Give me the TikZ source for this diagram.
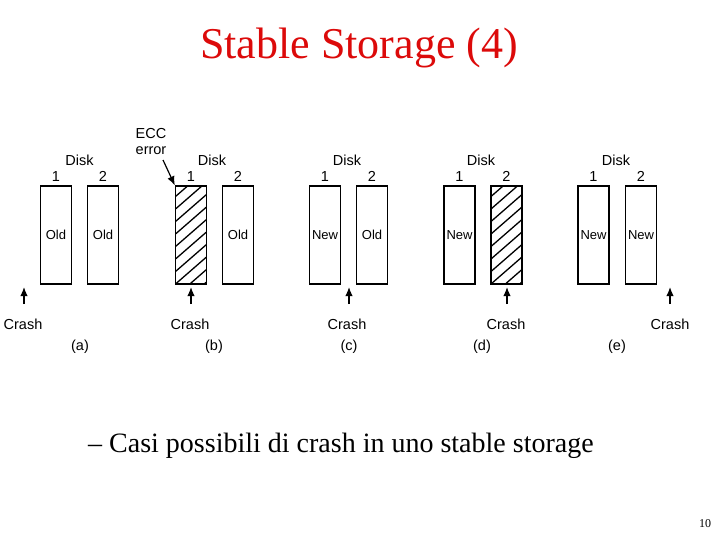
\documentclass[tikz,border=0pt]{standalone}
\usepackage{fontspec}
\setmainfont{Liberation Serif}
\newfontfamily\arialf{Liberation Sans}
\usetikzlibrary{arrows.meta}
\definecolor{titlered}{RGB}{220,10,10}
\tikzset{
  disk/.style={draw, line width=1.4pt, minimum width=31pt, minimum height=98pt, inner sep=0pt,
    font=\arialf\fontsize{13}{13}\selectfont},
  hatched/.style={path picture={
    \foreach \k in {-3,...,9}{
      \draw[line width=1.3pt] ([yshift=\k*12.5pt]path picture bounding box.south west) -- ++(31pt,27pt);}}},
  lbl/.style={font=\arialf\fontsize{14.5}{15}\selectfont, anchor=base, inner sep=0pt},
  crash/.style={-{Latex[length=9pt,width=7.5pt]}, line width=1.4pt}
}
\begin{document}
\begin{tikzpicture}[x=1pt,y=-1pt]
\useasboundingbox (0,0) rectangle (720,540);
% title
\node[anchor=base, inner sep=0pt, text=titlered, font=\fontsize{44}{48}\selectfont] (title) at (359,59) {Stable Storage (4)};
% (a)
\node[disk] (a1) at (56,235) {Old};
\node[disk] (a2) at (103,235) {Old};
\node[lbl] (adisk) at (79.5,166) {Disk};
\node[lbl] (an1) at (56,182) {1};
\node[lbl] (an2) at (103,182) {2};
\coordinate (atail) at (24,304); \coordinate (ahead) at (24,287);
\draw[crash] (atail) -- (ahead);
\node[lbl] (acr) at (23,329) {Crash};
\node[lbl] (alab) at (80,350) {(a)};
% (b)
\node[disk, hatched] (b1) at (191,235) {};
\node[disk] (b2) at (238,235) {Old};
\node[lbl] (bdisk) at (212,166) {Disk};
\node[lbl] (bn1) at (191,182) {1};
\node[lbl] (bn2) at (238,182) {2};
\node[lbl] (ecc1) at (151,139) {ECC};
\node[lbl] (ecc2) at (151,155) {error};
\coordinate (ecctail) at (163,160);
\draw[crash, line width=1.2pt] (ecctail) -- (b1.north west);
\coordinate (btail) at (191,304); \coordinate (bhead) at (191,287);
\draw[crash] (btail) -- (bhead);
\node[lbl] (bcr) at (190,329) {Crash};
\node[lbl] (blab) at (214,350) {(b)};
% (c)
\node[disk] (c1) at (325,235) {New};
\node[disk] (c2) at (372,235) {Old};
\node[lbl] (cdisk) at (347,166) {Disk};
\node[lbl] (cn1) at (325,182) {1};
\node[lbl] (cn2) at (372,182) {2};
\coordinate (ctail) at (349,304); \coordinate (chead) at (349,287);
\draw[crash] (ctail) -- (chead);
\node[lbl] (ccr) at (347,329) {Crash};
\node[lbl] (clab) at (349,350) {(c)};
% (d)
\node[disk] (d1) at (459.5,235) {New};
\node[disk, hatched] (d2) at (506.5,235) {};
\node[lbl] (ddisk) at (481,166) {Disk};
\node[lbl] (dn1) at (459.5,182) {1};
\node[lbl] (dn2) at (506.5,182) {2};
\coordinate (dtail) at (507,304); \coordinate (dhead) at (507,287);
\draw[crash] (dtail) -- (dhead);
\node[lbl] (dcr) at (506,329) {Crash};
\node[lbl] (dlab) at (482,350) {(d)};
% (e)
\node[disk] (e1) at (593.5,235) {New};
\node[disk] (e2) at (641,235) {New};
\node[lbl] (edisk) at (616,166) {Disk};
\node[lbl] (en1) at (593.5,182) {1};
\node[lbl] (en2) at (641,182) {2};
\coordinate (etail) at (670,304); \coordinate (ehead) at (670,287);
\draw[crash] (etail) -- (ehead);
\node[lbl] (ecr) at (670,329) {Crash};
\node[lbl] (elab) at (617,350) {(e)};
% bullet text
\node[anchor=base west, inner sep=0pt, font=\fontsize{28}{30}\selectfont] (bullet) at (88,452) {– Casi possibili di crash in uno stable storage};
\node[anchor=base, inner sep=0pt, font=\fontsize{12}{12}\selectfont] (pnum) at (705,527) {10};
\end{tikzpicture}
\end{document}
